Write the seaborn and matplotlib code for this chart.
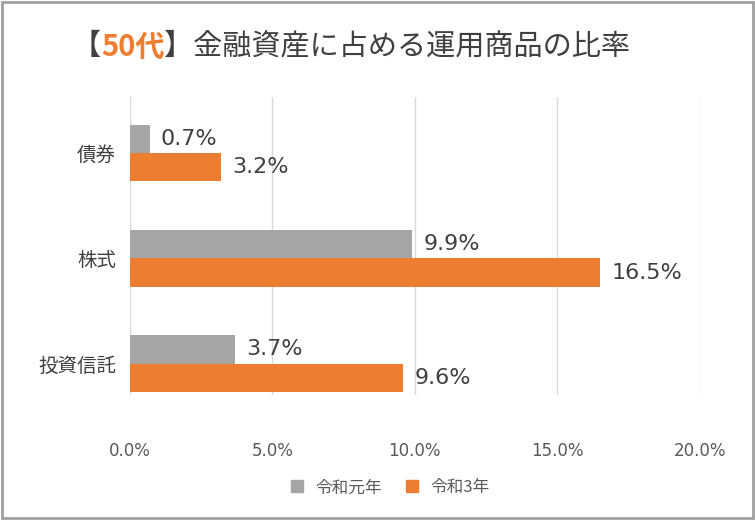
import matplotlib
matplotlib.use("Agg")
import matplotlib.pyplot as plt
import seaborn as sns
import pandas as pd
from matplotlib.patches import Rectangle
from matplotlib.lines import Line2D

categories = ["債券", "株式", "投資信託"]
series_names = ["令和元年", "令和3年"]
r1 = [0.7, 9.9, 3.7]
r3 = [3.2, 16.5, 9.6]
xticks = [0, 5, 10, 15, 20]

plt.rcParams["font.family"] = "Noto Sans CJK JP"
df = pd.DataFrame({
    "cat": categories * 2,
    "val": r1 + r3,
    "series": [series_names[0]] * 3 + [series_names[1]] * 3,
})

fig = plt.figure(figsize=(7.55, 5.2), dpi=100)
ax = fig.add_axes([0.172, 0.24, 0.755, 0.573])
sns.barplot(data=df, y="cat", x="val", hue="series", orient="h",
            palette=["#A5A5A5", "#ED7D31"], saturation=1, width=0.54, ax=ax, legend=False)
for c in ax.containers:
    ax.bar_label(c, labels=[f"{v:.1f}%" for v in c.datavalues], padding=8,
                 fontsize=16, color="#404040", fontfamily="DejaVu Sans")
ax.set_xlim(0, 20)
ax.set_ylim(2.3, -0.53)
ax.set_xticks(xticks)
ax.set_xticklabels([f"{t:.1f}%" for t in xticks], fontsize=12, color="#595959",
                   fontfamily="DejaVu Sans")
ax.tick_params(axis="y", labelsize=14, colors="#404040", length=0, pad=10)
ax.tick_params(axis="x", length=0, pad=34)
ax.set_xlabel("")
ax.set_ylabel("")
ax.grid(axis="x", color="#D9D9D9", lw=1)
ax.set_axisbelow(True)
for s in ax.spines.values():
    s.set_visible(False)

t1 = fig.text(0.095, 0.91, "【", fontsize=21, color="#404040", va="center")
t2 = ax.annotate("50代", xy=(1, 0), xycoords=t1, va="bottom", fontsize=21,
                 color="#ED7D31", fontweight="bold")
ax.annotate("】金融資産に占める運用商品の比率", xy=(1, 0), xycoords=t2,
            va="bottom", fontsize=21, color="#404040")

handles = [Line2D([], [], marker="s", ls="", color=c, markersize=9)
           for c in ["#A5A5A5", "#ED7D31"]]
fig.legend(handles, series_names, loc="center", bbox_to_anchor=(0.51, 0.062),
           ncol=2, frameon=False, fontsize=12, handletextpad=0.1,
           columnspacing=0.8, labelcolor="#595959")

fig.patches.append(Rectangle((0.002, 0.003), 0.996, 0.994, transform=fig.transFigure,
                             fill=False, ec="#A0A0A0", lw=2))
fig.savefig("out.png", dpi=100)
